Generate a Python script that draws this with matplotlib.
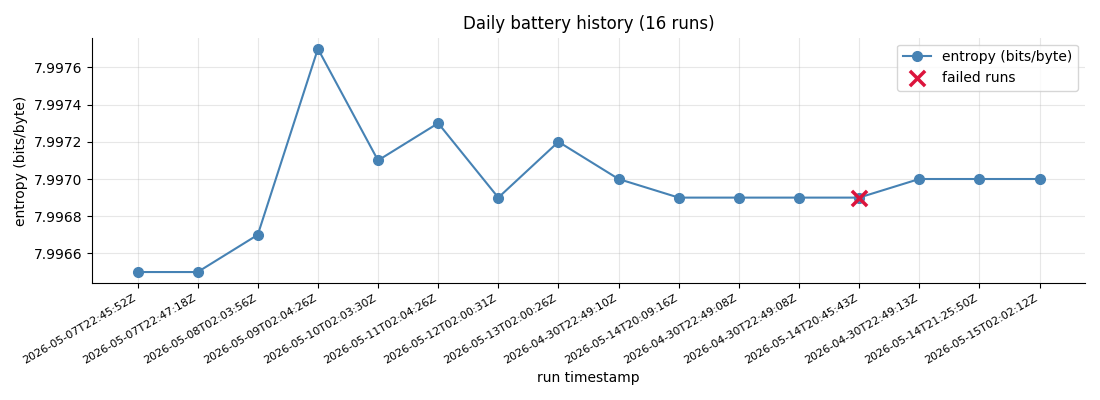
import matplotlib
matplotlib.use("Agg")
import matplotlib.pyplot as plt

# run timestamps (x tick labels)
timestamps = [
    "2026-05-07T22:45:52Z", "2026-05-07T22:47:18Z", "2026-05-08T02:03:56Z",
    "2026-05-09T02:04:26Z", "2026-05-10T02:03:30Z", "2026-05-11T02:04:26Z",
    "2026-05-12T02:00:31Z", "2026-05-13T02:00:26Z", "2026-04-30T22:49:10Z",
    "2026-05-14T20:09:16Z", "2026-04-30T22:49:08Z", "2026-04-30T22:49:08Z",
    "2026-05-14T20:45:43Z", "2026-04-30T22:49:13Z", "2026-05-14T21:25:50Z",
    "2026-05-15T02:02:12Z",
]
entropy = [7.9965, 7.9965, 7.9967, 7.9977, 7.9971, 7.9973, 7.9969, 7.9972,
           7.9970, 7.9969, 7.9969, 7.9969, 7.9969, 7.9970, 7.9970, 7.9970]
failed_idx = [12]

x = list(range(len(timestamps)))

fig, ax = plt.subplots(figsize=(11, 4), dpi=100)
ax.plot(x, entropy, marker="o", color="steelblue", markersize=7,
        linewidth=1.5, label="entropy (bits/byte)")
ax.scatter([x[i] for i in failed_idx], [entropy[i] for i in failed_idx],
           marker="x", color="crimson", s=120, linewidths=2.5, zorder=5,
           label="failed runs")

ax.set_xticks(x)
ax.set_xticklabels(timestamps, rotation=30, ha="right", fontsize=8)
ax.set_xlabel("run timestamp")
ax.set_ylabel("entropy (bits/byte)")
ax.set_title("Daily battery history (16 runs)")
ax.grid(True, alpha=0.3)
ax.spines["top"].set_visible(False)
ax.spines["right"].set_visible(False)
ax.legend(loc="upper right")

fig.subplots_adjust(left=0.084, right=0.986, top=0.906, bottom=0.292)
fig.savefig("out.png")
